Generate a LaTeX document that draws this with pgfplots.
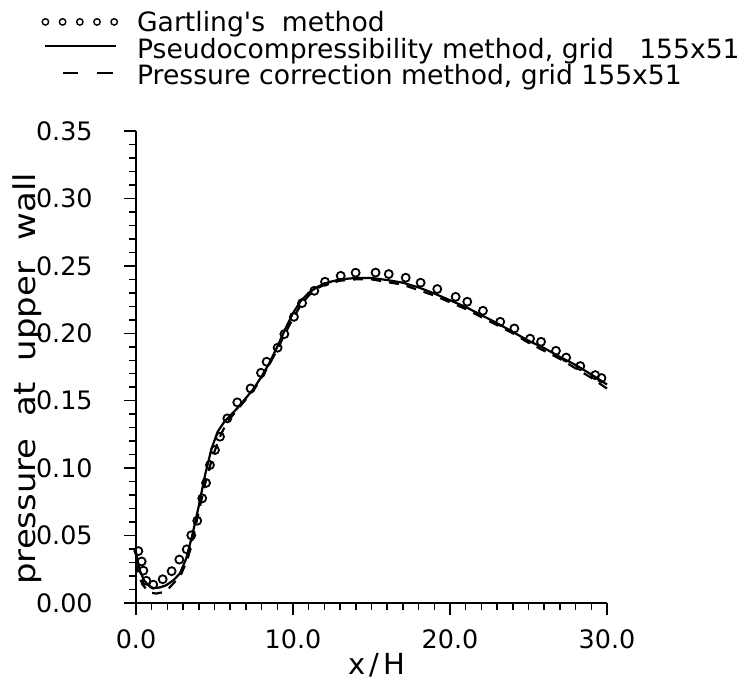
\documentclass[border=0pt]{standalone}
\usepackage{fontspec}
\setmainfont{DejaVu Sans}
\usepackage{graphicx}
\usepackage{pgfplots}
\pgfplotsset{compat=1.18}
\usepackage{pgfplotstable}

\pgfplotstableread{
x y
0.15 0.0385
0.36 0.0308
0.47 0.0240
0.66 0.0165
1.10 0.0136
1.70 0.0176
2.27 0.0236
2.76 0.0322
3.23 0.0398
3.52 0.0502
3.90 0.0610
4.22 0.0776
4.46 0.0890
4.71 0.1023
5.03 0.1134
5.35 0.1233
5.82 0.1369
6.45 0.1488
7.30 0.1591
7.96 0.1707
8.32 0.1789
9.02 0.1893
9.45 0.1994
10.06 0.2122
10.58 0.2224
11.36 0.2315
12.04 0.2382
13.04 0.2426
13.99 0.2449
15.26 0.2450
16.10 0.2439
17.18 0.2412
18.13 0.2375
19.19 0.2328
20.36 0.2270
21.10 0.2234
22.10 0.2167
23.20 0.2085
24.10 0.2036
25.10 0.1960
25.80 0.1937
26.75 0.1870
27.40 0.1820
28.30 0.1757
29.25 0.1690
29.65 0.1668
}\gartling

\pgfplotstableread{
x y
0.0 0.038
0.1 0.031
0.25 0.024
0.5 0.017
0.8 0.013
1.1 0.011
1.5 0.0115
1.9 0.013
2.4 0.017
2.8 0.022
3.2 0.033
3.6 0.051
4.0 0.072
4.4 0.095
4.8 0.114
5.2 0.127
5.6 0.134
6.0 0.139
6.5 0.145
7.0 0.152
7.5 0.159
8.0 0.168
8.5 0.178
9.0 0.190
9.5 0.203
10.0 0.215
10.5 0.224
11.0 0.230
11.5 0.234
12.0 0.237
13.0 0.240
14.0 0.241
15.0 0.241
16.0 0.2395
17.0 0.2375
18.0 0.234
19.0 0.2295
20.0 0.2245
21.0 0.2195
22.0 0.2135
23.0 0.2075
24.0 0.201
25.0 0.1945
26.0 0.189
27.0 0.1825
28.0 0.1765
29.0 0.1695
30.0 0.162
}\pseudo

\pgfplotstableread{
x y
0.0 0.030
0.15 0.022
0.4 0.014
0.7 0.0095
1.0 0.0075
1.3 0.007
1.7 0.008
2.1 0.011
2.5 0.016
2.9 0.022
3.3 0.033
3.7 0.052
4.1 0.073
4.5 0.093
4.9 0.109
5.3 0.122
5.7 0.132
6.0 0.137
6.5 0.144
7.0 0.151
7.5 0.158
8.0 0.167
8.5 0.177
9.0 0.188
9.5 0.200
10.0 0.211
10.5 0.221
11.0 0.228
11.5 0.233
12.0 0.236
13.0 0.239
14.0 0.240
15.0 0.240
16.0 0.238
17.0 0.236
18.0 0.232
19.0 0.228
20.0 0.223
21.0 0.218
22.0 0.212
23.0 0.206
24.0 0.200
25.0 0.193
26.0 0.187
27.0 0.181
28.0 0.174
29.0 0.167
30.0 0.159
}\presscorr

\begin{document}
\begin{tikzpicture}
\begin{axis}[
  scale only axis, width=235.5pt, height=236pt,
  xmin=0, xmax=30, ymin=0, ymax=0.35,
  axis lines*=left,
  axis line style={line width=1pt},
  xtick={0,10,20,30}, minor x tick num=9,
  ytick={0,0.05,0.1,0.15,0.2,0.25,0.3,0.35}, minor y tick num=4,
  tick align=outside,
  major tick length=6pt, minor tick length=3.5pt,
  every tick/.style={black, line width=0.75pt},
  /pgf/number format/assume math mode=true,
  xticklabel={\pgfmathprintnumber[fixed,fixed zerofill,precision=1]{\tick}},
  yticklabel={\pgfmathprintnumber[fixed,fixed zerofill,precision=2]{\tick}},
  xticklabel style={font=\fontsize{12.7}{15}\selectfont, anchor=north, inner sep=0pt, yshift=-7pt},
  yticklabel style={font=\fontsize{12.7}{15}\selectfont, anchor=east, inner sep=0pt, xshift=-15.5pt},
  xlabel={x\kern2pt/\kern2pt H},
  xlabel style={font=\fontsize{14.5}{17}\selectfont, at={(axis description cs:0.512,0)}, anchor=north, inner sep=0pt, yshift=-25pt},
  ylabel={\scalebox{1.13}[1]{pressure\ \ at\ \ upper\ \ wall}},
  ylabel style={font=\fontsize{15}{18}\selectfont, at={(axis description cs:0,0.475)}, anchor=base, inner sep=0pt, yshift=50pt},
  legend cell align=left,
  legend style={at={(axis description cs:-0.2006,1.249)}, anchor=north west, draw=none, fill=none,
    inner sep=0pt, outer sep=0pt, font=\fontsize{13.3}{16}\selectfont, column sep=9.5pt, row sep=0pt,
    nodes={inner sep=0pt, text height=9.25pt, text depth=4pt}},
  clip=false,
]
\coordinate (O) at (rel axis cs:0,0);
\addplot[only marks, mark=o, mark size=2.0pt, mark options={line width=0.9pt, black},
  legend image code/.code={\path[draw=none] (0pt,0pt) -- (38pt,0pt);
    \foreach \i in {0,...,4}{\draw[black, line width=0.7pt] (1.75pt+\i*8.6pt,2.4pt) circle (1.6pt);}}]
  table[x=x,y=y]{\gartling};
\addlegendentry{Gartling\textquotesingle s\ \ method}
\addplot[black, line width=1.1pt, no marks,
  legend image code/.code={\path[draw=none] (0pt,0pt) -- (38pt,0pt);
    \draw[black, line width=1pt, solid] (1.5pt,3.4pt) -- (37pt,3.4pt);}]
  table[x=x,y=y]{\pseudo};
\addlegendentry{Pseudocompressibility method, grid\ \ \ 155x51}
\addplot[black, line width=1.1pt, no marks, dash pattern=on 5pt off 4pt,
  legend image code/.code={\path[draw=none] (0pt,0pt) -- (38pt,0pt);
    \draw[black, line width=1pt, solid] (10.5pt,3.4pt) -- (18pt,3.4pt);
    \draw[black, line width=1pt, solid] (27.5pt,3.4pt) -- (35.5pt,3.4pt);}]
  table[x=x,y=y]{\presscorr};
\addlegendentry{Pressure correction method, grid 155x51}
\end{axis}
\pgfresetboundingbox
\path ([shift={(-68pt,-39pt)}]O) rectangle ([shift={(305pt,301.5pt)}]O);
\end{tikzpicture}
\end{document}
